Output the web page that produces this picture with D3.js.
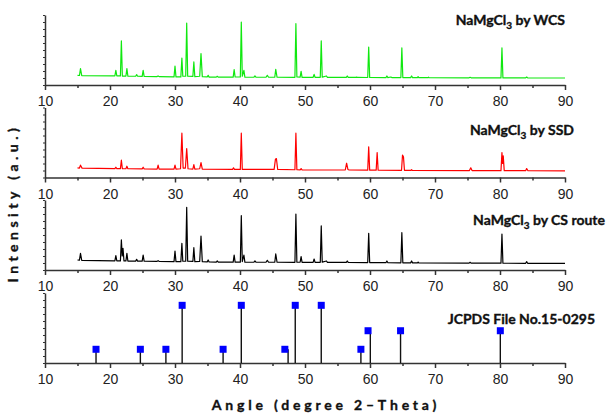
<!DOCTYPE html>
<html>
<head>
<meta charset="utf-8">
<script src="https://cdn.jsdelivr.net/npm/d3@7"></script>
<style>
  body { margin: 0; background: #fff; }
  svg { display: block; }
  .tick text { font-family: "Liberation Sans", Arial, sans-serif; font-size: 14px; fill: #222; }
  .domain, .tick line { stroke: #333; stroke-width: 1.5; }
  .lbl { font-family: Lato, "Open Sans", sans-serif; font-weight: bold; font-size: 14px; fill: #111; stroke: #111; stroke-width: 0.35px; }
</style>
</head>
<body>
<div id="chart"></div>
<script>
// x ticks
const xMajorTicks = [10, 20, 30, 40, 50, 60, 70, 80, 90];
const xMinorTicks = [15, 25, 35, 45, 55, 65, 75, 85];
const yMinorTicks = [0, 10, 20, 30, 40, 50, 60, 70, 80, 90, 100];

// [angle, intensity] vertices
const wcsPattern = [
  [15.0,13.8],[15.3,13.6],[15.46,23.3],[15.65,13.5],
  [20.75,12.9],[20.9,21.0],[21.05,12.9],
  [21.6,12.9],[21.75,62.9],[21.9,12.8],
  [22.45,12.8],[22.6,23.3],[22.75,12.7],
  [23.95,12.5],[24.1,14.8],[24.25,12.5],
  [24.95,12.3],[25.1,21.0],[25.25,12.2],
  [27.2,12.0],[27.4,12.9],[27.6,11.9],
  [29.85,11.6],[30.0,27.0],[30.15,11.6],
  [30.9,11.6],[31.06,38.6],[31.2,12.5],
  [31.65,12.5],[31.8,88.6],[31.95,12.5],
  [32.75,12.3],[32.9,32.9],[33.05,12.0],
  [33.8,12.5],[34.0,44.8],[34.2,12.0],
  [34.95,11.5],[35.1,13.8],[35.25,11.3],
  [36.35,11.2],[36.5,12.4],[36.65,11.2],
  [38.95,11.2],[39.1,21.9],[39.25,11.4],
  [40.05,11.5],[40.2,90.0],[40.35,12.5],[40.6,21.0],[40.75,11.3],
  [42.15,11.1],[42.3,12.9],[42.45,11.1],
  [44.0,11.1],[44.2,13.8],[44.4,11.1],
  [45.35,11.1],[45.5,22.4],[45.7,11.1],
  [48.45,11.0],[48.6,87.6],[48.75,11.5],
  [49.25,11.2],[49.4,19.5],[49.55,11.0],
  [51.25,11.0],[51.4,15.2],[51.55,11.0],
  [52.35,11.0],[52.5,62.9],[52.65,11.2],[53.3,12.9],[53.45,10.9],
  [56.35,10.8],[56.5,12.9],[56.65,10.8],
  [57.8,10.8],[57.9,11.4],[58.0,10.8],
  [59.65,10.7],[59.8,54.3],[59.95,10.7],
  [62.45,10.6],[62.6,12.9],[62.75,10.6],[63.2,11.4],[63.4,10.6],
  [64.75,10.6],[64.9,52.9],[65.05,10.6],
  [66.25,10.5],[66.4,12.9],[66.55,10.5],
  [67.3,10.5],[67.4,11.9],[67.5,10.5],
  [68.9,10.4],[69.0,11.2],[69.1,10.4],
  [75.25,10.3],[75.4,11.0],[75.55,10.3],
  [80.15,10.2],[80.3,52.9],[80.45,10.2],
  [83.95,10.1],[84.1,11.4],[84.25,10.1],
  [90.0,10.0]
];

const ssdPattern = [
  [15.0,13.8],[15.3,13.5],[15.46,17.6],[15.7,13.4],
  [20.75,12.6],[20.9,14.7],[21.05,12.6],
  [21.6,12.6],[21.75,24.7],[21.9,12.6],
  [22.45,12.5],[22.6,16.1],[22.75,12.5],
  [24.95,12.3],[25.1,14.7],[25.25,12.3],
  [27.25,12.1],[27.4,17.6],[27.55,12.1],
  [29.85,12.0],[30.0,17.6],[30.15,12.0],
  [30.85,12.5],[31.06,63.3],[31.25,13.5],
  [31.6,13.5],[31.8,41.4],[32.0,12.5],
  [32.75,12.0],[32.9,18.5],[33.05,12.0],
  [33.8,12.5],[34.0,21.4],[34.2,12.0],
  [38.85,11.6],[39.0,13.8],[39.15,11.6],
  [40.05,11.5],[40.2,63.3],[40.35,11.5],
  [45.25,11.5],[45.45,26.0],[45.6,27.1],[45.8,11.5],
  [48.45,11.1],[48.6,63.3],[48.75,11.1],
  [49.25,11.0],[49.4,12.8],[49.55,11.0],
  [56.2,10.7],[56.4,20.4],[56.6,11.5],[56.8,10.7],
  [59.65,10.5],[59.8,43.8],[59.95,10.5],
  [60.95,10.5],[61.1,35.7],[61.25,10.5],
  [64.85,10.3],[65.0,31.9],[65.15,29.5],[65.3,10.3],
  [66.3,10.2],[66.4,11.3],[66.5,10.2],
  [75.3,9.9],[75.5,13.8],[75.7,9.9],
  [80.15,9.8],[80.3,35.7],[80.4,20.0],[80.5,30.9],[80.65,9.8],
  [83.95,9.7],[84.1,12.8],[84.3,9.7],
  [90.0,9.5]
];

const csPattern = [
  [15.0,14.3],[15.3,14.0],[15.46,23.8],[15.65,13.8],
  [20.75,12.9],[20.9,20.5],[21.05,12.9],
  [21.6,12.9],[21.75,42.9],[21.88,20.0],[22.0,31.0],[22.15,12.9],
  [22.45,12.9],[22.6,23.8],[22.75,12.8],
  [23.95,12.7],[24.1,15.2],[24.25,12.7],
  [24.95,12.6],[25.1,21.4],[25.25,12.6],
  [27.25,12.4],[27.4,13.3],[27.55,12.4],
  [29.85,12.0],[30.0,27.1],[30.15,12.0],
  [30.9,12.0],[31.06,38.1],[31.2,12.5],
  [31.65,12.5],[31.8,89.5],[31.95,12.5],
  [32.75,12.2],[32.9,31.9],[33.05,12.0],
  [33.8,12.3],[34.0,48.6],[34.2,12.0],
  [34.95,11.5],[35.1,14.3],[35.25,11.4],
  [36.35,11.3],[36.5,12.9],[36.65,11.3],
  [38.95,11.2],[39.1,21.4],[39.25,11.2],
  [40.05,11.2],[40.2,77.6],[40.35,12.0],[40.6,21.4],[40.75,11.2],
  [42.15,11.1],[42.3,12.9],[42.45,11.1],
  [44.0,11.1],[44.2,13.8],[44.4,11.1],
  [45.35,11.1],[45.5,22.9],[45.7,11.1],
  [48.45,11.0],[48.6,80.0],[48.75,11.2],
  [49.25,11.1],[49.4,19.0],[49.55,11.0],
  [51.25,11.0],[51.4,15.7],[51.55,11.0],
  [52.35,11.0],[52.5,62.9],[52.65,11.2],[53.3,12.9],[53.45,10.9],
  [56.35,10.8],[56.5,12.9],[56.65,10.8],
  [59.65,10.6],[59.8,52.4],[59.95,10.6],
  [62.45,10.4],[62.6,12.9],[62.75,10.4],
  [64.75,10.3],[64.9,53.3],[65.05,10.3],
  [66.25,10.2],[66.4,12.9],[66.55,10.2],
  [67.3,10.1],[67.4,11.4],[67.5,10.1],
  [75.25,9.8],[75.4,11.0],[75.55,9.8],
  [80.15,9.7],[80.3,51.4],[80.45,9.7],
  [83.95,9.6],[84.1,11.9],[84.25,9.6],
  [90.0,9.5]
];

// JCPDS 15-0295 reference lines
const jcpdsAngle = [17.85, 24.67, 28.6, 31.1, 37.4, 40.2, 47.4, 48.5, 52.5, 58.6, 60.05, 64.7, 80.05];
const jcpdsMarkerAngle = [17.85, 24.67, 28.6, 31.1, 37.4, 40.2, 46.9, 48.5, 52.5, 58.6, 59.7, 64.7, 80.05];
const jcpdsIntensity = [19.6, 19.6, 19.6, 82.4, 19.6, 82.4, 19.6, 82.4, 82.4, 19.6, 46.1, 46.1, 46.1];

const patternNames = ["by WCS", "by SSD", "by CS route"];
const patternColors = ["#10e810", "#ff0000", "#000000"];

const width = 608, height = 414;
const panelBase = [85, 177.5, 270, 363];
const panelHeight = 70;

const svg = d3.select("#chart").append("svg")
    .attr("width", width)
    .attr("height", height);

const x = d3.scaleLinear().domain([10, 90]).range([45, 565]);

function drawAxes(base) {
    const y = d3.scaleLinear().domain([0, 100]).range([base, base - panelHeight]);

    svg.append("g")
        .attr("transform", "translate(0," + base + ")")
        .call(d3.axisBottom(x).tickValues(xMinorTicks).tickSize(3).tickFormat(""))
        .select(".domain").remove();
    svg.append("g")
        .attr("transform", "translate(0," + base + ")")
        .call(d3.axisBottom(x).tickValues(xMajorTicks).tickSize(5).tickSizeOuter(0).tickPadding(6.5));

    svg.append("g")
        .attr("transform", "translate(45,0)")
        .call(d3.axisLeft(y).tickValues(yMinorTicks).tickSize(2).tickSizeOuter(0).tickFormat(""))
        .selectAll(".tick line").style("stroke-width", 1);
    return y;
}

function panelLabel(text, right, baseline) {
    const t = svg.append("text")
        .attr("class", "lbl")
        .attr("text-anchor", "end")
        .attr("x", right)
        .attr("y", baseline);
    if (text.startsWith("JCPDS")) {
        t.text(text);
    } else {
        t.append("tspan").text("NaMgCl");
        t.append("tspan").attr("dy", 4).style("font-size", "10px").text("3");
        t.append("tspan").attr("dy", -4).text(" " + text);
    }
}

const labelRight = [565, 574, 605, 595];
const labelBaseline = [25, 135, 225, 324];

[wcsPattern, ssdPattern, csPattern].forEach((pattern, i) => {
    const y = drawAxes(panelBase[i]);
    svg.append("path")
        .datum(pattern)
        .attr("fill", "none")
        .attr("stroke", patternColors[i])
        .attr("stroke-width", 1.2)
        .attr("stroke-linejoin", "round")
        .attr("d", d3.line()
            .x(d => x(d[0]))
            .y(d => y(d[1])));
    panelLabel(patternNames[i], labelRight[i], labelBaseline[i]);
});

// reference stick pattern
const yRef = drawAxes(panelBase[3]);
const refData = jcpdsAngle.map((a, i) => ({ angle: a, marker: jcpdsMarkerAngle[i], value: jcpdsIntensity[i] }));

svg.selectAll(".stick")
    .data(refData)
    .enter()
    .append("line")
    .attr("class", "stick")
    .attr("x1", d => x(d.angle))
    .attr("x2", d => x(d.angle))
    .attr("y1", yRef(0))
    .attr("y2", d => yRef(d.value))
    .attr("stroke", "#111")
    .attr("stroke-width", 1.4);

svg.selectAll(".marker")
    .data(refData)
    .enter()
    .append("rect")
    .attr("class", "marker")
    .attr("x", d => x(d.marker) - 3.5)
    .attr("y", d => yRef(d.value) - 3.5)
    .attr("width", 7)
    .attr("height", 7)
    .attr("fill", "#0000ff");

panelLabel("JCPDS File No.15-0295", labelRight[3], labelBaseline[3]);

// axis titles
svg.append("text")
    .attr("class", "lbl")
    .attr("text-anchor", "middle")
    .attr("x", 326)
    .attr("y", 410)
    .style("letter-spacing", "3.8px")
    .text("Angle (degree 2\u2013Theta)");

svg.append("text")
    .attr("class", "lbl")
    .attr("text-anchor", "middle")
    .attr("transform", "translate(18,203) rotate(-90)")
    .style("letter-spacing", "4.5px")
    .text("Intensity (a.u.)");
</script>
</body>
</html>
